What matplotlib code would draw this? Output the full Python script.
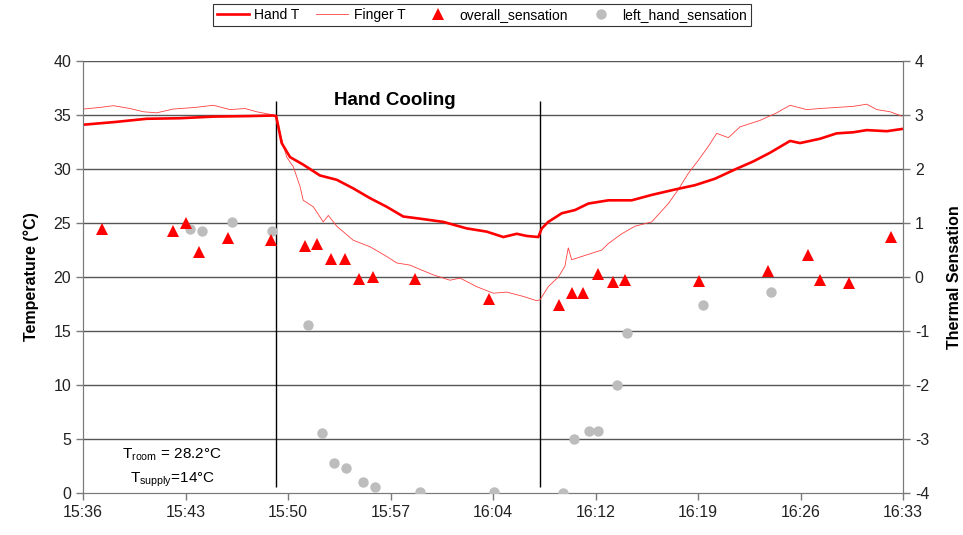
import numpy as np
import matplotlib
matplotlib.use('Agg')
from matplotlib import pyplot as plt
from matplotlib.lines import Line2D

plt.rcParams['font.family'] = ['Liberation Sans', 'DejaVu Sans']
plt.rcParams['mathtext.default'] = 'regular'
plt.rcParams['axes.unicode_minus'] = False

# time axis in minutes after 15:36
tick_labels = ['15:36', '15:43', '15:50', '15:57', '16:04', '16:12', '16:19', '16:26', '16:33']

# Hand T (thick red line)
hand_t = [0.02, 2.22, 4.43, 6.74, 9.06, 11.61, 13.21, 13.42, 13.58, 13.81, 14.39, 15.31,
          16.47, 17.64, 18.79, 19.95, 21.11, 22.26, 23.43, 25.05, 26.67, 28.06, 29.22,
          30.15, 30.84, 31.65, 31.89, 32.34, 33.28, 34.20, 35.13, 36.52, 38.14, 39.53,
          41.15, 42.54, 43.93, 45.39, 46.59, 47.75, 49.15, 49.84, 51.23, 52.39, 53.55,
          54.48, 55.87, 56.91]
hand_temp = [34.1, 34.35, 34.65, 34.7, 34.85, 34.9, 34.95, 34.9, 33.9, 32.4, 31.1, 30.4,
             29.4, 29.0, 28.2, 27.3, 26.5, 25.6, 25.4, 25.1, 24.5, 24.2, 23.7,
             24.0, 23.8, 23.7, 24.5, 25.1, 25.9, 26.2, 26.8, 27.1, 27.1, 27.6,
             28.1, 28.5, 29.1, 30.0, 30.7, 31.5, 32.6, 32.4, 32.8, 33.3, 33.4,
             33.6, 33.5, 33.7]

# Finger T (thin red line)
finger_t = [0.02, 1.18, 2.11, 3.27, 4.19, 5.12, 6.28, 7.79, 9.06, 10.22, 11.26, 12.07,
            13.23, 13.49, 13.62, 13.90, 14.16, 14.62, 15.08, 15.31, 16.01, 16.70, 17.05,
            17.64, 18.79, 19.95, 21.11, 21.81, 22.73, 23.43, 24.35, 25.51, 26.21, 27.37,
            28.52, 29.45, 30.61, 31.54, 31.77, 32.34, 33.04, 33.50, 33.73, 33.97, 34.90,
            36.06, 36.52, 37.45, 38.37, 39.53, 40.69, 41.38, 42.08, 42.77, 43.47, 44.05,
            44.86, 45.67, 47.06, 48.22, 49.15, 50.31, 51.23, 52.39, 53.55, 54.48, 55.17,
            56.10, 56.91]
finger_temp = [35.55, 35.7, 35.86, 35.6, 35.3, 35.2, 35.55, 35.7, 35.9, 35.5, 35.6, 35.3,
               35.0, 34.8, 33.8, 32.3, 31.1, 30.2, 28.4, 27.1, 26.5, 25.1, 25.7,
               24.7, 23.4, 22.8, 21.9, 21.3, 21.1, 20.7, 20.2, 19.7, 19.9, 19.1,
               18.5, 18.6, 18.2, 17.8, 17.9, 19.1, 20.0, 21.0, 22.7, 21.6, 22.0,
               22.5, 23.1, 24.0, 24.7, 25.1, 26.8, 28.1, 29.6, 30.8, 32.1, 33.3,
               32.9, 33.9, 34.5, 35.2, 35.9, 35.5, 35.6, 35.7, 35.8, 36.0, 35.5,
               35.3, 34.9]

# overall sensation (red triangles, right axis)
overall_t = [1.30, 6.24, 7.16, 8.08, 10.06, 13.05, 15.45, 16.24, 17.26, 18.21, 19.21,
             20.14, 23.08, 28.22, 33.11, 33.97, 34.74, 35.78, 36.82, 37.70, 42.84,
             47.59, 50.42, 51.23, 53.27, 56.17]
overall_sens = [0.89, 0.86, 1.0, 0.47, 0.73, 0.69, 0.57, 0.62, 0.33, 0.33, -0.04,
                0.0, -0.04, -0.41, -0.52, -0.30, -0.29, 0.06, -0.09, -0.06, -0.07,
                0.12, 0.41, -0.06, -0.12, 0.74]

# left hand sensation (grey dots, right axis)
left_t = [7.44, 8.25, 10.34, 13.12, 15.66, 16.61, 17.47, 18.26, 19.44, 20.32, 23.43,
          28.57, 33.39, 34.15, 35.19, 35.78, 37.10, 37.84, 43.08, 47.80]
left_sens = [0.88, 0.86, 1.02, 0.86, -0.88, -2.88, -3.44, -3.54, -3.79, -3.88, -3.98,
             -3.98, -4.0, -3.0, -2.85, -2.85, -2.0, -1.04, -0.52, -0.27]

cooling_start = 13.42
cooling_end = 31.77

fig = plt.figure(figsize=(9.63, 5.35), dpi=100)
ax1 = fig.add_axes([0.0862, 0.0785, 0.8515, 0.8075])
ax2 = ax1.twinx()

grid_col = '#555555'
for v in range(5, 41, 5):
    ax1.axhline(v, color=grid_col, lw=1.0, zorder=1)

ax1.plot(finger_t, finger_temp, color='#ff4040', lw=0.6, zorder=3)
ax1.plot(hand_t, hand_temp, color='#ff0000', lw=1.9, zorder=4)

ax1.vlines([cooling_start, cooling_end], 0.6, 36.3, color='black', lw=1.0, zorder=2)

ax2.plot(left_t, left_sens, 'o', color='#bdbdbd', markersize=7.5, markeredgewidth=0, zorder=5)
ax2.plot(overall_t, overall_sens, '^', color='#ff0000', markersize=9, markeredgewidth=0,
         zorder=6, clip_on=False)

ax1.set_xlim(0, 57)
ax1.set_ylim(0, 40)
ax2.set_ylim(-4, 4)
ax1.set_xticks(np.linspace(0, 57, 9))
ax1.set_xticklabels(tick_labels)
ax1.set_yticks(range(0, 41, 5))
ax2.set_yticks(range(-4, 5))

for ax in (ax1, ax2):
    for s in ax.spines.values():
        s.set_color('#7a7a7a')
    ax.spines['top'].set_visible(False)
    ax.tick_params(colors='#7a7a7a', labelcolor='#222222', labelsize=11.5,
                   length=5, width=1, direction='out')

ax1.set_ylabel('Temperature (°C)', fontsize=11.5, fontweight='bold', labelpad=10)
ax2.set_ylabel('Thermal Sensation', fontsize=11.5, fontweight='bold', rotation=90, labelpad=13)

ax1.text(21.69, 36.3, 'Hand Cooling', fontsize=13.5, fontweight='bold', ha='center', va='center')
ax1.text(6.19, 3.5, 'T$_{room}$ = 28.2°C', fontsize=11, ha='center', va='center')
ax1.text(6.19, 1.2, 'T$_{supply}$=14°C', fontsize=11, ha='center', va='center')

handles = [Line2D([], [], color='#ff0000', lw=1.9),
           Line2D([], [], color='#ff4040', lw=0.6),
           Line2D([], [], color='#ff0000', marker='^', ls='none', markersize=9, markeredgewidth=0),
           Line2D([], [], color='#bdbdbd', marker='o', ls='none', markersize=7.5, markeredgewidth=0)]
labels = ['Hand T', 'Finger T', 'overall_sensation', 'left_hand_sensation']
leg = fig.legend(handles, labels, loc='center', bbox_to_anchor=(0.5005, 0.972), ncol=4,
                 fontsize=10, frameon=True, fancybox=False, edgecolor='black',
                 handlelength=2.3, columnspacing=1.2, borderpad=0.3, handletextpad=0.4)
leg.get_frame().set_linewidth(0.8)

fig.savefig('out.png', dpi=100)
